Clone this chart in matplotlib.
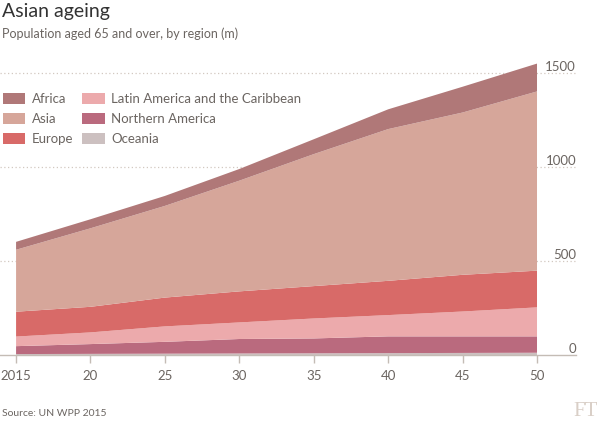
import matplotlib.pyplot as plt
from matplotlib.patches import Patch

# data (millions, aged 65+)
years = [2015, 2020, 2025, 2030, 2035, 2040, 2045, 2050]
oceania = [5, 6, 7, 8, 9, 10, 11, 12]
northern_america = [42, 52, 63, 77, 79, 89, 88, 87]
latin_america = [51, 62, 82, 88, 106, 113, 132, 154]
europe = [132, 136, 153, 165, 172, 182, 195, 195]
asia = [329, 417, 487, 588, 701, 806, 862, 952]
africa = [42, 48, 53, 62, 79, 105, 137, 148]

x_labels = ["2015", "20", "25", "30", "35", "40", "45", "50"]
y_ticks = [0, 500, 1000, 1500]

colors = {
    "Africa": "#b07878",
    "Asia": "#d6a69a",
    "Europe": "#d86a68",
    "Latin America and the Caribbean": "#ecaaac",
    "Northern America": "#ba6a7e",
    "Oceania": "#ccc0c0",
}

TEXT = "#6b6561"
plt.rcParams['font.family'] = ['Lato', 'DejaVu Sans']

fig = plt.figure(figsize=(6, 4.22), dpi=100)
fig.patch.set_facecolor("white")
ax = fig.add_axes([0.0, 1 - 355 / 422, 0.96, (355 - 60) / 422])

# Oceania is a thin sliver, kept at the bottom by the axis line
stack_names = ["Oceania", "Northern America", "Latin America and the Caribbean",
               "Europe", "Asia", "Africa"]
stack_vals = [oceania, northern_america, latin_america, europe, asia, africa]
ax.stackplot(years, *stack_vals, colors=[colors[n] for n in stack_names],
             linewidth=0, zorder=2)

ax.set_xlim(2013.92, 2052.62)
ax.set_ylim(0, 1567)

# dotted gridlines
for v in y_ticks[1:]:
    ax.axhline(v, color="#d2c8c0", linestyle=(0, (1, 2)), linewidth=0.9, zorder=1)

for s in ["top", "left", "right"]:
    ax.spines[s].set_visible(False)
ax.spines["bottom"].set_color("#c4bcb5")
ax.spines["bottom"].set_linewidth(1)
ax.spines["bottom"].set_zorder(3)

ax.set_xticks(years)
ax.set_xticklabels(x_labels)
ax.tick_params(axis="x", length=6, color="#c4bcb5", width=1, pad=5,
               labelsize=9.5, labelcolor=TEXT)

ax.yaxis.tick_right()
ax.set_yticks(y_ticks)
ax.set_yticklabels([str(v) for v in y_ticks])
ax.tick_params(axis="y", length=0, pad=0, labelsize=9.5, labelcolor=TEXT)
for lab in ax.get_yticklabels():
    lab.set_horizontalalignment("right")
    lab.set_verticalalignment("bottom")

# legend in alphabetical order
legend_names = ["Africa", "Asia", "Europe", "Latin America and the Caribbean",
                "Northern America", "Oceania"]
handles = [Patch(facecolor=colors[n], edgecolor="none", label=n) for n in legend_names]
leg = fig.legend(handles=handles, ncol=2, loc="upper left",
                 bbox_to_anchor=(0.0, 1 - 90 / 422), frameon=False,
                 fontsize=9.5, handlelength=1.7, handleheight=0.9,
                 handletextpad=0.5, columnspacing=0.7, labelspacing=0.62,
                 borderaxespad=0, borderpad=0.2)
for t in leg.get_texts():
    t.set_color(TEXT)

fig.text(0.004, 1 - 3 / 422, "Asian ageing", fontsize=14, color="#333333",
         ha="left", va="top")
fig.text(0.004, 1 - 27 / 422, "Population aged 65 and over, by region (m)",
         fontsize=9, color=TEXT, ha="left", va="top")
fig.text(0.004, 1 - 414 / 422, "Source: UN WPP 2015", fontsize=7.5,
         color=TEXT, ha="left", va="center")
fig.text(0.997, 1 - 411 / 422, "FT", fontsize=15, color="#d9cfc7",
         family="Liberation Serif", ha="right", va="center")

fig.savefig("out.png", dpi=100)
